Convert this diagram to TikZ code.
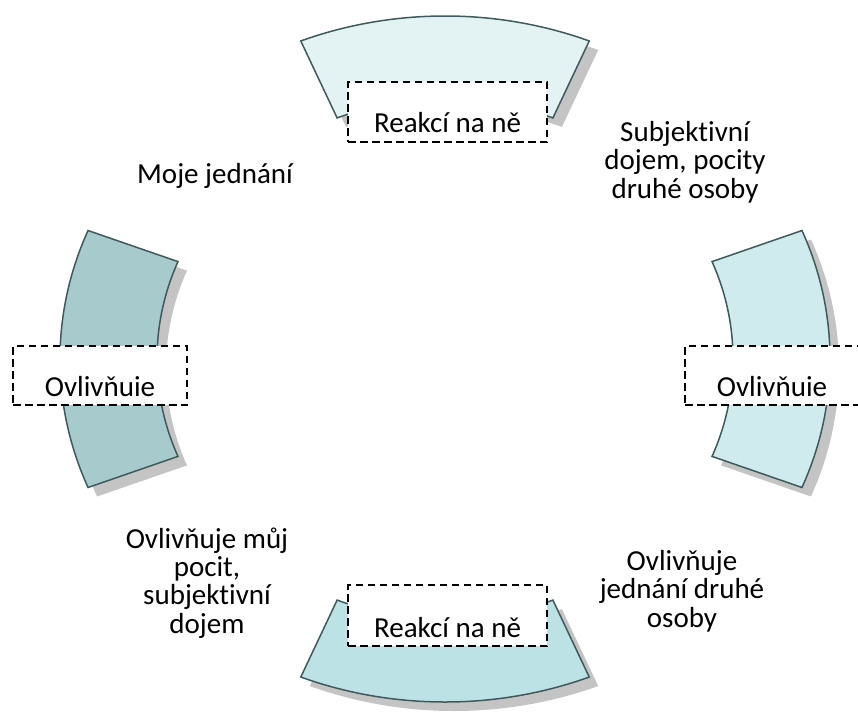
\documentclass[tikz,border=0pt]{standalone}
\usepackage{fontspec}
\setmainfont{Carlito}[Ligatures=NoCommon]
\usetikzlibrary{calc}

\definecolor{segline}{RGB}{64,90,92}
\definecolor{segshadow}{RGB}{196,196,196}
\definecolor{segtop}{RGB}{227,243,244}
\definecolor{segright}{RGB}{208,235,237}
\definecolor{segbottom}{RGB}{188,226,229}
\definecolor{segleft}{RGB}{167,202,205}

% ring segment between parametric angles #1 and #2 of the outer and inner ellipses
% (#3,#4 is the ring centre)
\newcommand\ringpath[4]{%
  ($(#3,#4)+(#1:385pt and 343pt)$)
  arc[start angle=#1, end angle=#2, x radius=385pt, y radius=343pt]
  -- ($(#3,#4)+(#2:288pt and 260pt)$)
  arc[start angle=#2, end angle=#1, x radius=288pt, y radius=260pt]
  -- cycle}

\newcommand\ringseg[3]{%
  \fill[segshadow] \ringpath{#1}{#2}{454}{-368};
  \filldraw[segpiece, fill=#3] \ringpath{#1}{#2}{445}{-359};}

\tikzset{
  segpiece/.style={draw=segline, line width=1.5pt, line join=miter},
  dbox/.style={draw=black, fill=white, line width=2.2pt,
    dash pattern=on 7.5pt off 4.5pt, inner sep=0pt},
  txt/.style={font=\fontsize{29pt}{28.3pt}\selectfont, align=center,
    inner sep=0pt, anchor=base},
}

\begin{document}
\begin{tikzpicture}[x=1pt, y=1pt]
  \useasboundingbox (0,0) rectangle (858,-715);

  % the four pieces of the ring
  \ringseg{68}{112}{segtop}
  \ringseg{-22}{22}{segright}
  \ringseg{-112}{-68}{segbottom}
  \ringseg{158}{202}{segleft}

  % dashed label boxes on the ring
  \node[dbox, minimum width=199pt, minimum height=60pt] (topbox) at (447.5,-112) {};
  \node[txt] (toptxt) at (447.5,-132) {Reakcí na ně};

  \node[dbox, minimum width=199pt, minimum height=61pt] (botbox) at (447.5,-615.5) {};
  \node[txt] (bottxt) at (447.5,-637) {Reakcí na ně};

  \node[dbox, minimum width=174pt, minimum height=59pt] (leftbox) at (100,-375.5) {};
  \node[txt] (lefttxt) at (100,-396) {Ovlivňuie};

  \node[dbox, minimum width=174pt, minimum height=59pt] (rightbox) at (772,-375.5) {};
  \node[txt] (righttxt) at (772,-396) {Ovlivňuie};

  % texts between the pieces (base = baseline of the last line)
  \node[txt] (mine) at (215,-183) {Moje jednání};
  \node[txt] (impress) at (685,-198) {Subjektivní\\dojem, pocity\\druhé osoby};
  \node[txt] (action) at (682,-627) {Ovlivňuje\\jednání druhé\\osoby};
  \node[txt] (feeling) at (207,-633) {Ovlivňuje můj\\pocit,\\subjektivní\\dojem};
\end{tikzpicture}
\end{document}
